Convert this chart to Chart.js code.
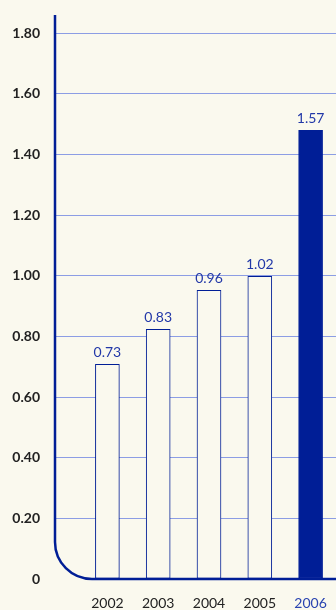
<!DOCTYPE html>
<html>
<head>
<meta charset="utf-8">
<script src="https://cdn.jsdelivr.net/npm/chart.js@4/dist/chart.umd.min.js"></script>
<style>
  html, body { margin: 0; padding: 0; background: #faf9ee; }
  #wrap { width: 336px; height: 610px; }
</style>
</head>
<body>
<div id="wrap"><canvas id="bars"></canvas></div>
<script>
const years = ["2002", "2003", "2004", "2005", "2006"];
const barValues = [0.708, 0.823, 0.952, 0.998, 1.48];
const valueLabels = ["0.73", "0.83", "0.96", "1.02", "1.57"];
const yTicks = [0, 0.2, 0.4, 0.6, 0.8, 1.0, 1.2, 1.4, 1.6, 1.8];

const navy = "#001e96";
const gridBlue = "#8c9de4";
const cream = "#faf9ee";

// rounded axis line + value labels above bars
const decor = {
  id: "decor",
  afterDatasetsDraw(chart) {
    const { ctx, chartArea, scales } = chart;
    const x0 = chartArea.left - 27;
    const yb = scales.y.getPixelForValue(0);
    const r = 37;
    ctx.save();
    ctx.strokeStyle = navy;
    ctx.lineWidth = 2.5;
    ctx.beginPath();
    ctx.moveTo(x0, chartArea.top);
    ctx.lineTo(x0, yb - r);
    ctx.arcTo(x0, yb, x0 + r, yb, r);
    ctx.lineTo(chart.width, yb);
    ctx.stroke();

    ctx.fillStyle = "#2238a8";
    ctx.font = "14px Lato";
    ctx.textAlign = "center";
    ctx.textBaseline = "bottom";
    chart.getDatasetMeta(0).data.forEach((bar, i) => {
      ctx.fillText(valueLabels[i], bar.x, bar.y - 5);
    });
    ctx.restore();
  }
};

new Chart(document.getElementById("bars"), {
  type: "bar",
  data: {
    labels: years,
    datasets: [{
      data: barValues,
      backgroundColor: years.map((y, i) => i === years.length - 1 ? navy : cream),
      borderColor: navy,
      borderWidth: 1,
      borderSkipped: false,
      barThickness: 24
    }]
  },
  options: {
    responsive: true,
    maintainAspectRatio: false,
    animation: false,
    layout: { padding: { top: 15, right: -2, left: 0, bottom: 0 } },
    plugins: { legend: { display: false }, tooltip: { enabled: false } },
    scales: {
      x: {
        grid: { display: false },
        border: { display: false },
        ticks: {
          padding: 8,
          font: { family: "Lato", size: 14 },
          color: (c) => c.index === years.length - 1 ? "#2a44b0" : "#222"
        },
        afterFit: (s) => { s.height = 31; }
      },
      y: {
        min: 0,
        max: 1.86,
        afterBuildTicks: (s) => { s.ticks = yTicks.map(v => ({ value: v })); },
        grid: {
          color: (c) => c.tick && c.tick.value === 0 ? "rgba(0,0,0,0)" : gridBlue,
          tickColor: (c) => c.tick && c.tick.value === 0 ? "rgba(0,0,0,0)" : gridBlue,
          tickLength: 27,
          lineWidth: 1
        },
        border: { display: false },
        ticks: {
          padding: 15,
          color: "#222",
          font: { family: "Lato", size: 14, weight: "bold" },
          callback: (v) => v === 0 ? "0" : v.toFixed(2)
        },
        afterFit: (s) => {
          s.width = 82;
          s.paddingTop = 0;
          s.paddingBottom = 0;
        }
      }
    }
  },
  plugins: [decor]
});
</script>
</body>
</html>
